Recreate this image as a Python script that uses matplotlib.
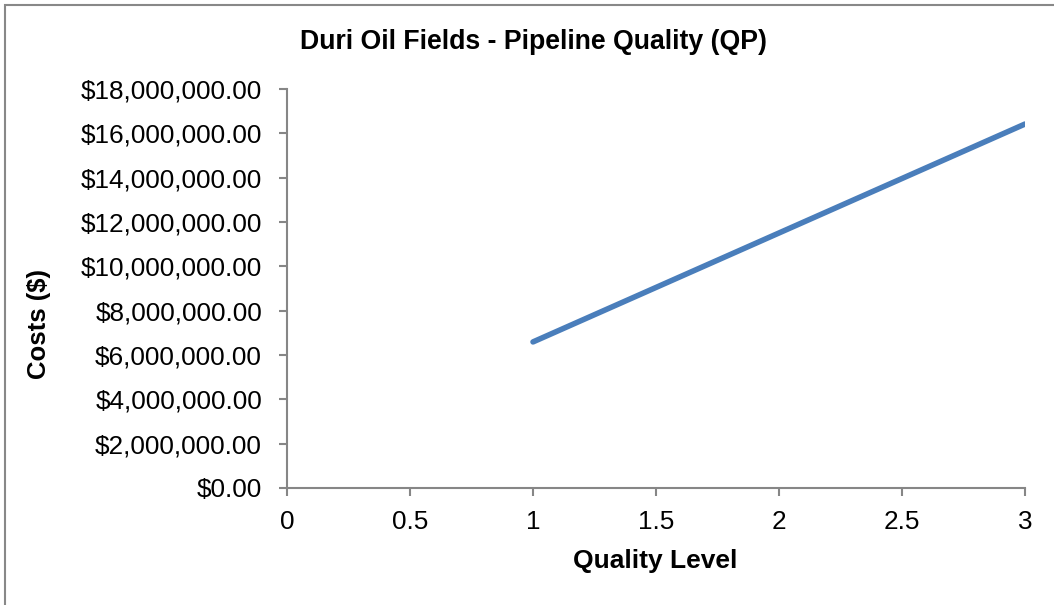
import matplotlib.pyplot as plt
from matplotlib.patches import Rectangle
from matplotlib.ticker import FuncFormatter, MultipleLocator

plt.rcParams['font.family'] = ['Liberation Sans', 'DejaVu Sans']

# pipeline cost by quality level
quality = [1, 2, 3]
costs = [6590000, 11505000, 16420000]

axis_grey = '#868686'

fig = plt.figure(figsize=(10.54, 6.05), dpi=100)
ax = fig.add_axes([0.2723, 0.1934, 0.7002, 0.6595])

ax.plot(quality, costs, color='#4a7ebb', linewidth=4, solid_capstyle='round')

ax.set_xlim(0, 3)
ax.set_ylim(0, 18000000)
ax.xaxis.set_major_locator(MultipleLocator(0.5))
ax.yaxis.set_major_locator(MultipleLocator(2000000))
ax.xaxis.set_major_formatter(FuncFormatter(lambda v, p: '{:g}'.format(v)))
ax.yaxis.set_major_formatter(FuncFormatter(lambda v, p: '${:,.2f}'.format(v)))

for side in ['top', 'right']:
    ax.spines[side].set_visible(False)
for side in ['left', 'bottom']:
    ax.spines[side].set_color(axis_grey)
    ax.spines[side].set_linewidth(1.5)

ax.tick_params(axis='both', direction='out', length=6, width=1.5, color=axis_grey,
               labelsize=18.8, labelcolor='black')
ax.tick_params(axis='y', pad=12)
ax.tick_params(axis='x', pad=10)

fig.text(0.506, 0.919, 'Duri Oil Fields - Pipeline Quality (QP)', ha='center',
         va='baseline', fontsize=19.2, fontweight='bold')
fig.text(0.622, 0.0612, 'Quality Level', ha='center', va='baseline',
         fontsize=19, fontweight='bold')
fig.text(0.037, 0.4645, 'Costs ($)', ha='center', va='center', rotation=90,
         fontsize=18.5, fontweight='bold')

# chart area border (open on the right and bottom)
fig.patches.append(Rectangle((5 / 1054, -0.1), 1.2, (600 / 605) + 0.1,
                             transform=fig.transFigure, fill=False,
                             edgecolor='#888888', linewidth=1.5))

fig.savefig('out.png', dpi=100)
